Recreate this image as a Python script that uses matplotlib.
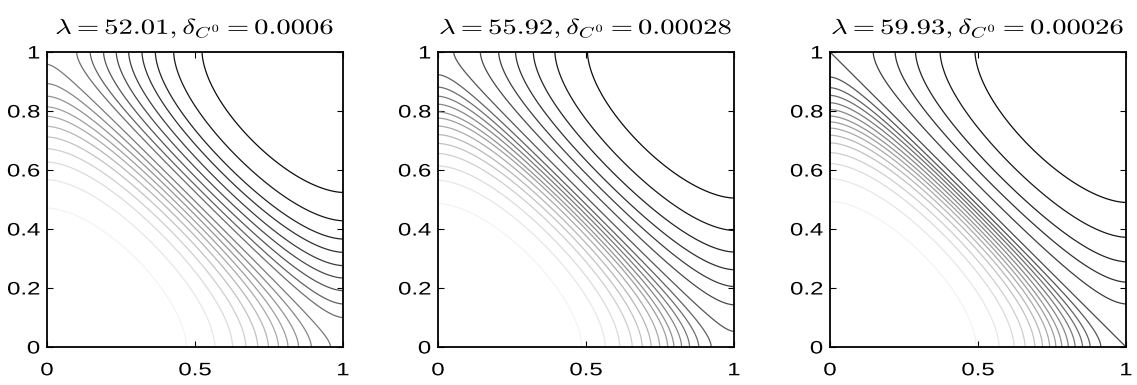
import numpy as np
import matplotlib

matplotlib.use("Agg")
import matplotlib.pyplot as plt
from matplotlib.patheffects import AbstractPathEffect
from matplotlib.ticker import FormatStrFormatter
from matplotlib.transforms import Affine2D

plt.rcParams["mathtext.fontset"] = "cm"
plt.rcParams["font.family"] = ["Liberation Sans", "DejaVu Sans"]

# panel titles
lambdas = ["52.01", "55.92", "59.93"]
deltas = ["0.0006", "0.00028", "0.00026"]

# where each contour meets the left edge (x = 0); by symmetry also the bottom edge
left_cross = [
    [0.471, 0.567, 0.627, 0.672, 0.712, 0.748, 0.782, 0.814, 0.850, 0.893, 0.958],
    [0.486, 0.565, 0.614, 0.656, 0.690, 0.720, 0.749, 0.776, 0.797, 0.823, 0.850, 0.881, 0.923],
    [0.494, 0.571, 0.622, 0.659, 0.692, 0.718, 0.742, 0.763, 0.783, 0.805, 0.828, 0.853, 0.879, 0.915],
]
# where each contour meets the top edge (y = 1); by symmetry also the right edge
top_cross = [
    [0.100, 0.146, 0.191, 0.234, 0.276, 0.321, 0.366, 0.428, 0.524],
    [0.053, 0.143, 0.205, 0.262, 0.322, 0.395, 0.505],
    [0.0, 0.146, 0.220, 0.289, 0.372, 0.490],
]

# the source image is stretched sideways, text included
SX = 1.33


class Stretch(AbstractPathEffect):
    """Widen text glyphs horizontally about the text anchor."""

    def __init__(self, sx, anchor="center"):
        super().__init__()
        self.sx = sx
        self.anchor = anchor

    def draw_path(self, renderer, gc, tpath, affine, rgbFace=None):
        ext = tpath.get_extents(affine)
        cx = ext.x1 if self.anchor == "right" else (ext.x0 + ext.x1) / 2
        aff = affine + Affine2D().translate(-cx, 0).scale(self.sx, 1).translate(cx, 0)
        renderer.draw_path(gc, tpath, aff, rgbFace)


# shape of the level sets: zero slope at both walls
P = 0.7
t = np.linspace(0, 1, 4001)
gp = np.sin(np.pi * t) ** P
g = np.concatenate([[0.0], np.cumsum((gp[1:] + gp[:-1]) / 2)])
g /= g[-1]

xs = np.linspace(0, 1, 501)
G = np.interp(xs, t, g)
V = G[None, :] + G[:, None]

fig = plt.figure(figsize=(11.37, 3.85), dpi=100)
lefts = [47 / 1137, 438 / 1137, 830 / 1137]
for k in range(3):
    ax = fig.add_axes([lefts[k], 38 / 385, 296 / 1137, 295 / 385])
    levels = sorted([np.interp(y, t, g) for y in left_cross[k]] +
                    [1 + np.interp(x, t, g) for x in top_cross[k]])
    n = len(levels)
    colors = [str(1 - (i + 1) / (n + 1)) for i in range(n)]
    ax.contour(xs, xs, V, levels=levels, colors=colors, linewidths=0.9)
    ax.set_xlim(0, 1)
    ax.set_ylim(0, 1)
    ax.set_xticks([0, 0.5, 1])
    ax.set_yticks([0, 0.2, 0.4, 0.6, 0.8, 1])
    ax.xaxis.set_major_formatter(FormatStrFormatter("%g"))
    ax.yaxis.set_major_formatter(FormatStrFormatter("%g"))
    ax.tick_params(direction="in", top=True, right=True, length=4, width=0.8,
                   labelsize=13)
    ax.tick_params(axis="x", pad=11)
    ax.tick_params(axis="y", pad=5)
    for lab in ax.get_xticklabels():
        lab.set_path_effects([Stretch(SX)])
    for lab in ax.get_yticklabels():
        lab.set_path_effects([Stretch(SX, "right")])
    for s in ax.spines.values():
        s.set_linewidth(1.3)
    ttl = ax.set_title(r"$\lambda = %s, \delta_{C^0} = %s$" % (lambdas[k], deltas[k]),
                       fontsize=15.5, pad=13)
    ttl.set_path_effects([Stretch(SX)])

fig.savefig("out.png", dpi=100)
